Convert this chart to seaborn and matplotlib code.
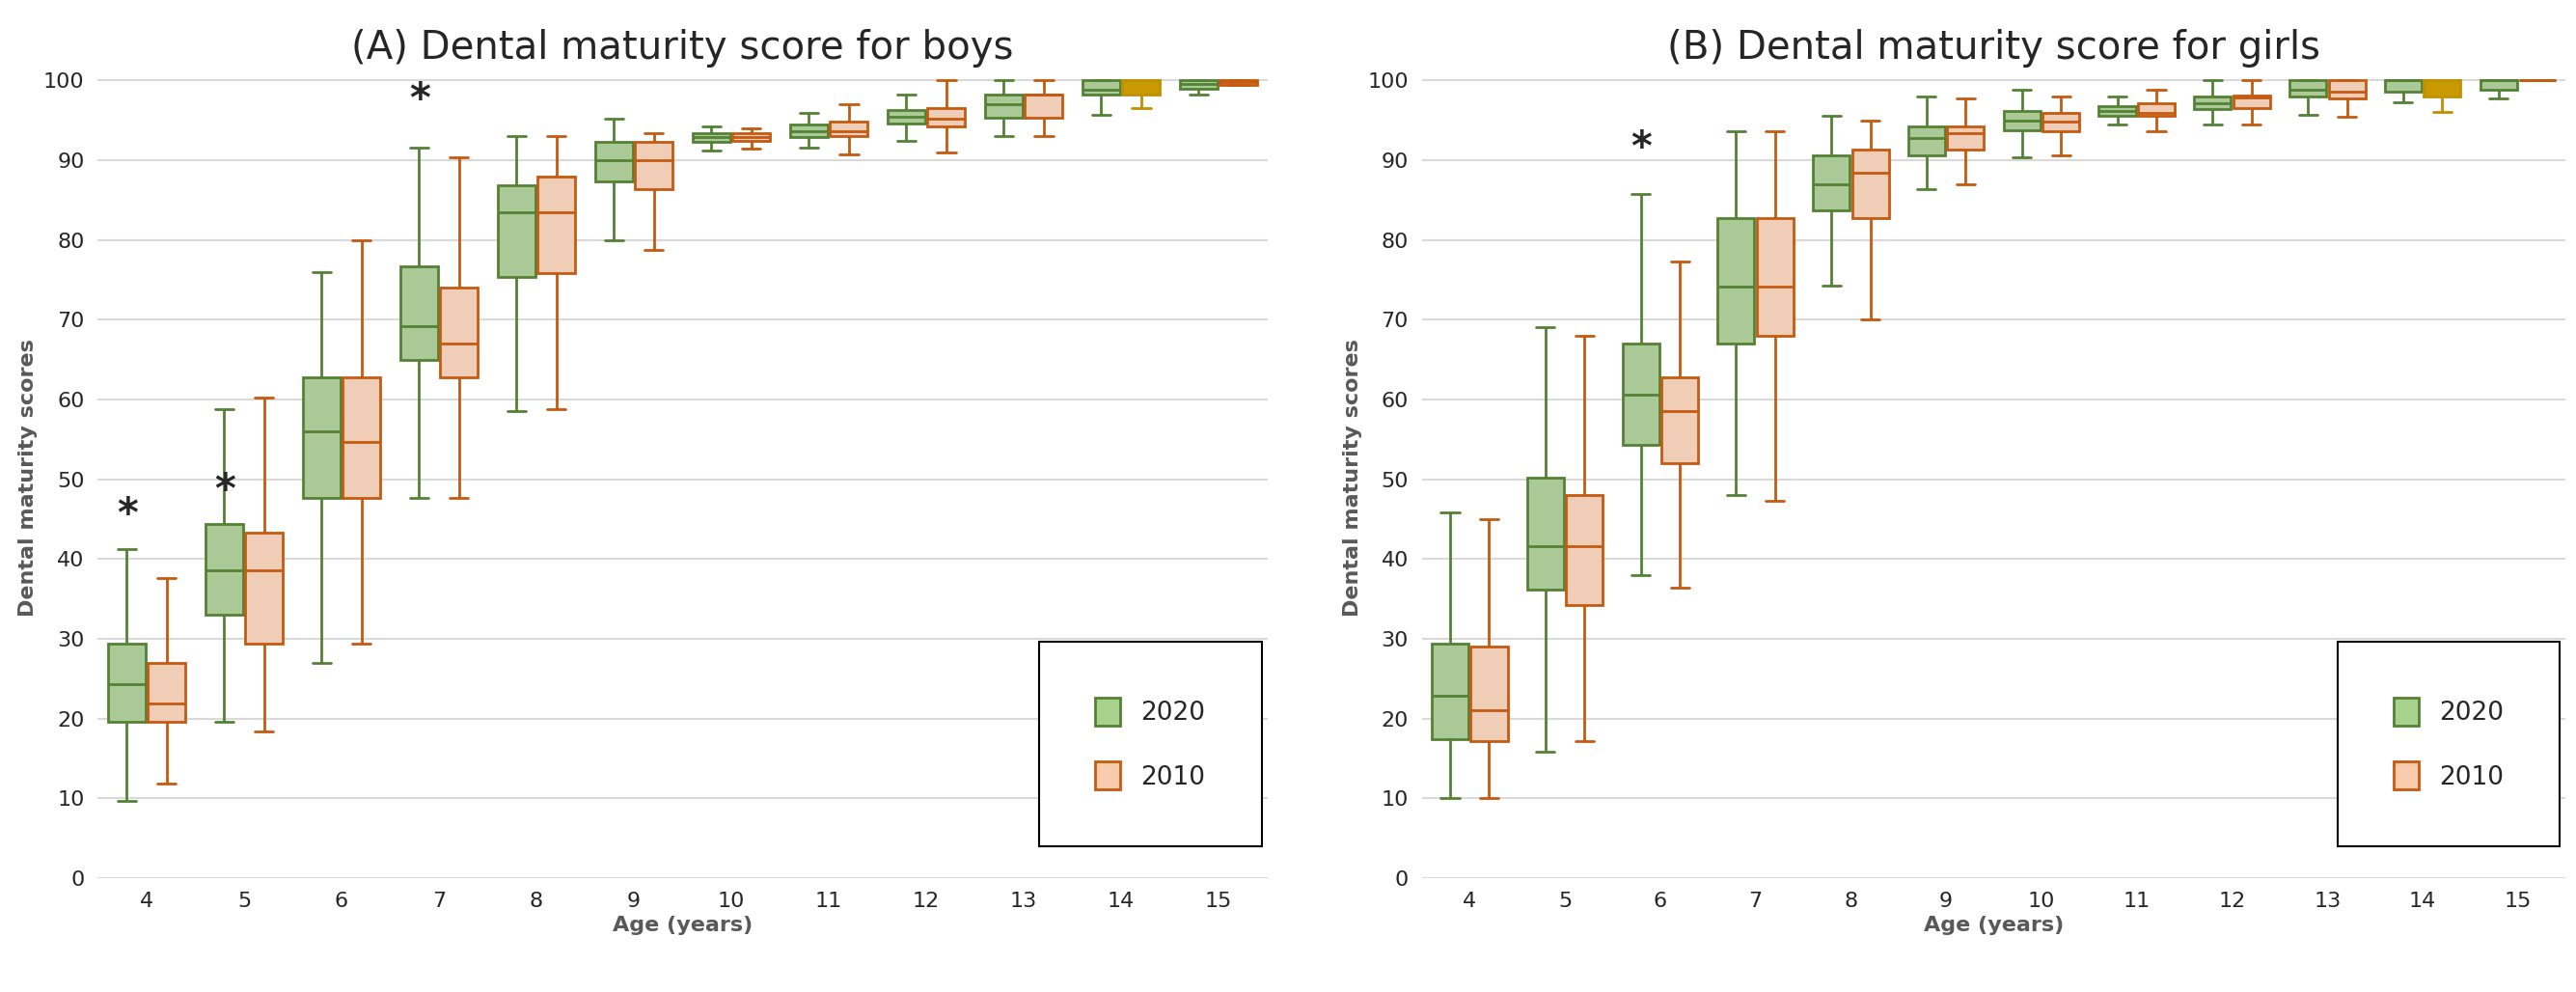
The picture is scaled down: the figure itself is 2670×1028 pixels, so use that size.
import numpy as np
import pandas as pd
import matplotlib
matplotlib.use("Agg")
import matplotlib.pyplot as plt
from matplotlib.patches import Patch
import seaborn as sns

ages = [4, 5, 6, 7, 8, 9, 10, 11, 12, 13, 14, 15]
years = ["2020", "2010"]

# [min, q1, median, q3, max] per age
boys_2020 = [
    [9.7, 19.6, 24.3, 29.4, 41.2], [19.6, 33.0, 38.6, 44.4, 58.8],
    [27.0, 47.6, 56.0, 62.8, 76.0], [47.7, 65.0, 69.2, 76.7, 91.6],
    [58.6, 75.4, 83.5, 86.9, 93.1], [80.0, 87.3, 90.0, 92.3, 95.2],
    [91.2, 92.3, 92.9, 93.4, 94.2], [91.6, 92.9, 93.6, 94.5, 96.0],
    [92.4, 94.6, 95.4, 96.3, 98.2], [93.1, 95.3, 97.0, 98.2, 100.0],
    [95.7, 98.2, 98.8, 100.0, 100.0], [98.2, 99.0, 99.6, 100.0, 100.0],
]
boys_2010 = [
    [11.8, 19.6, 21.9, 27.0, 37.6], [18.4, 29.4, 38.6, 43.3, 60.2],
    [29.4, 47.6, 54.7, 62.8, 80.0], [47.7, 62.8, 67.0, 74.0, 90.4],
    [58.8, 75.8, 83.5, 87.9, 93.1], [78.8, 86.4, 90.0, 92.3, 93.4],
    [91.5, 92.4, 92.9, 93.4, 94.0], [90.8, 93.0, 93.6, 94.8, 97.0],
    [91.0, 94.3, 95.2, 96.6, 100.0], [93.1, 95.3, 98.2, 98.2, 100.0],
    [96.6, 98.2, 100.0, 100.0, 100.0], [99.5, 99.5, 99.8, 100.0, 100.0],
]
girls_2020 = [
    [10.0, 17.4, 22.8, 29.4, 45.9], [15.8, 36.2, 41.6, 50.2, 69.1],
    [38.0, 54.3, 60.6, 67.0, 85.8], [48.0, 67.0, 74.2, 82.7, 93.7],
    [74.3, 83.7, 87.0, 90.6, 95.6], [86.4, 90.6, 92.8, 94.3, 98.0],
    [90.4, 93.8, 95.0, 96.2, 98.8], [94.5, 95.6, 96.2, 96.8, 98.0],
    [94.5, 96.4, 97.2, 98.0, 100.0], [95.7, 98.0, 98.9, 100.0, 100.0],
    [97.3, 98.6, 100.0, 100.0, 100.0], [97.8, 98.8, 100.0, 100.0, 100.0],
]
girls_2010 = [
    [10.0, 17.2, 21.0, 29.0, 45.0], [17.2, 34.2, 41.6, 48.0, 68.0],
    [36.4, 52.0, 58.6, 62.8, 77.3], [47.3, 68.0, 74.2, 82.7, 93.7],
    [70.0, 82.7, 88.4, 91.4, 95.0], [87.0, 91.4, 93.4, 94.3, 97.8],
    [90.6, 93.6, 94.8, 96.0, 98.0], [93.6, 95.6, 96.0, 97.2, 98.8],
    [94.5, 96.6, 97.9, 98.1, 100.0], [95.5, 97.8, 98.6, 100.0, 100.0],
    [96.1, 98.0, 100.0, 100.0, 100.0], [100.0, 100.0, 100.0, 100.0, 100.0],
]

boys_stars = [(4, 45.5), (5, 48.5), (7, 97.5)]
girls_stars = [(6, 91.5)]

fill = {"2020": "#A9D18E", "2010": "#F8CBAD"}
edge = {"2020": "#548235", "2010": "#C55A11"}
gold_fill, gold_edge = "#C99A00", "#BF9000"


def make_df(s2020, s2010):
    rows = []
    for yr, stats in (("2020", s2020), ("2010", s2010)):
        for a, st in zip(ages, stats):
            for v in st:
                rows.append({"age": a, "year": yr, "score": v})
    return pd.DataFrame(rows)


def side_of(x):
    # which hue level an artist belongs to, from its x offset
    return "2020" if x - np.round(x) < 0 else "2010"


def draw(ax, df, title, stars, gold_index):
    sns.boxplot(data=df, x="age", y="score", hue="year", hue_order=years,
                whis=(0, 100), width=0.82, gap=0.06, palette=fill,
                linecolor="black", linewidth=2, legend=False, ax=ax)
    gold_x = gold_index + 0.2
    for p in ax.patches:
        xm = p.get_path().vertices[:, 0].mean()
        p.set_edgecolor(edge[side_of(xm)])
        if abs(xm - gold_x) < 0.15:
            p.set_facecolor(gold_fill)
            p.set_edgecolor(gold_edge)
    for ln in ax.lines:
        xd = np.asarray(ln.get_xdata(), dtype=float)
        if not len(xd):
            continue
        xm = xd.mean()
        ln.set_color(edge[side_of(xm)])
        if abs(xm - gold_x) < 0.15:
            ln.set_color(gold_edge)
    for a, yv in stars:
        ax.text(ages.index(a) - 0.2, yv, "*", ha="center", va="center",
                fontsize=30, fontweight="bold")
    ax.set_ylim(0, 100.4)
    ax.set_yticks(range(0, 101, 10))
    ax.set_xlim(-0.5, len(ages) - 0.5)
    ax.yaxis.grid(True, color="#D9D9D9", linewidth=1.5)
    ax.set_axisbelow(True)
    for s in ax.spines.values():
        s.set_visible(False)
    ax.tick_params(axis="both", length=0, labelsize=16, pad=10)
    ax.set_xlabel("Age (years)", fontsize=16, fontweight="bold", color="#595959")
    ax.set_ylabel("Dental maturity scores", fontsize=16, fontweight="bold",
                  color="#595959")
    ax.set_title(title, fontsize=29, pad=14)
    handles = [Patch(facecolor=fill[y], edgecolor=edge[y], linewidth=2, label=y)
               for y in years]
    leg = ax.legend(handles=handles, loc="lower right",
                    bbox_to_anchor=(0.995, 0.04), fontsize=19, frameon=True,
                    fancybox=False, edgecolor="black", borderpad=2.2,
                    labelspacing=1.4, handlelength=1.0, handleheight=1.3,
                    borderaxespad=0)
    leg.get_frame().set_linewidth(1.5)
    leg.get_frame().set_alpha(1)


sns.set_style("white")
plt.rcParams["font.family"] = ["DejaVu Sans"]
fig = plt.figure(figsize=(26.7, 10.28), dpi=100)
ax1 = fig.add_axes([0.038, 0.115, 0.454, 0.807])
ax2 = fig.add_axes([0.552, 0.115, 0.444, 0.807])
draw(ax1, make_df(boys_2020, boys_2010), "(A) Dental maturity score for boys",
     boys_stars, 10)
draw(ax2, make_df(girls_2020, girls_2010), "(B) Dental maturity score for girls",
     girls_stars, 10)
fig.savefig("out.png", dpi=100)
